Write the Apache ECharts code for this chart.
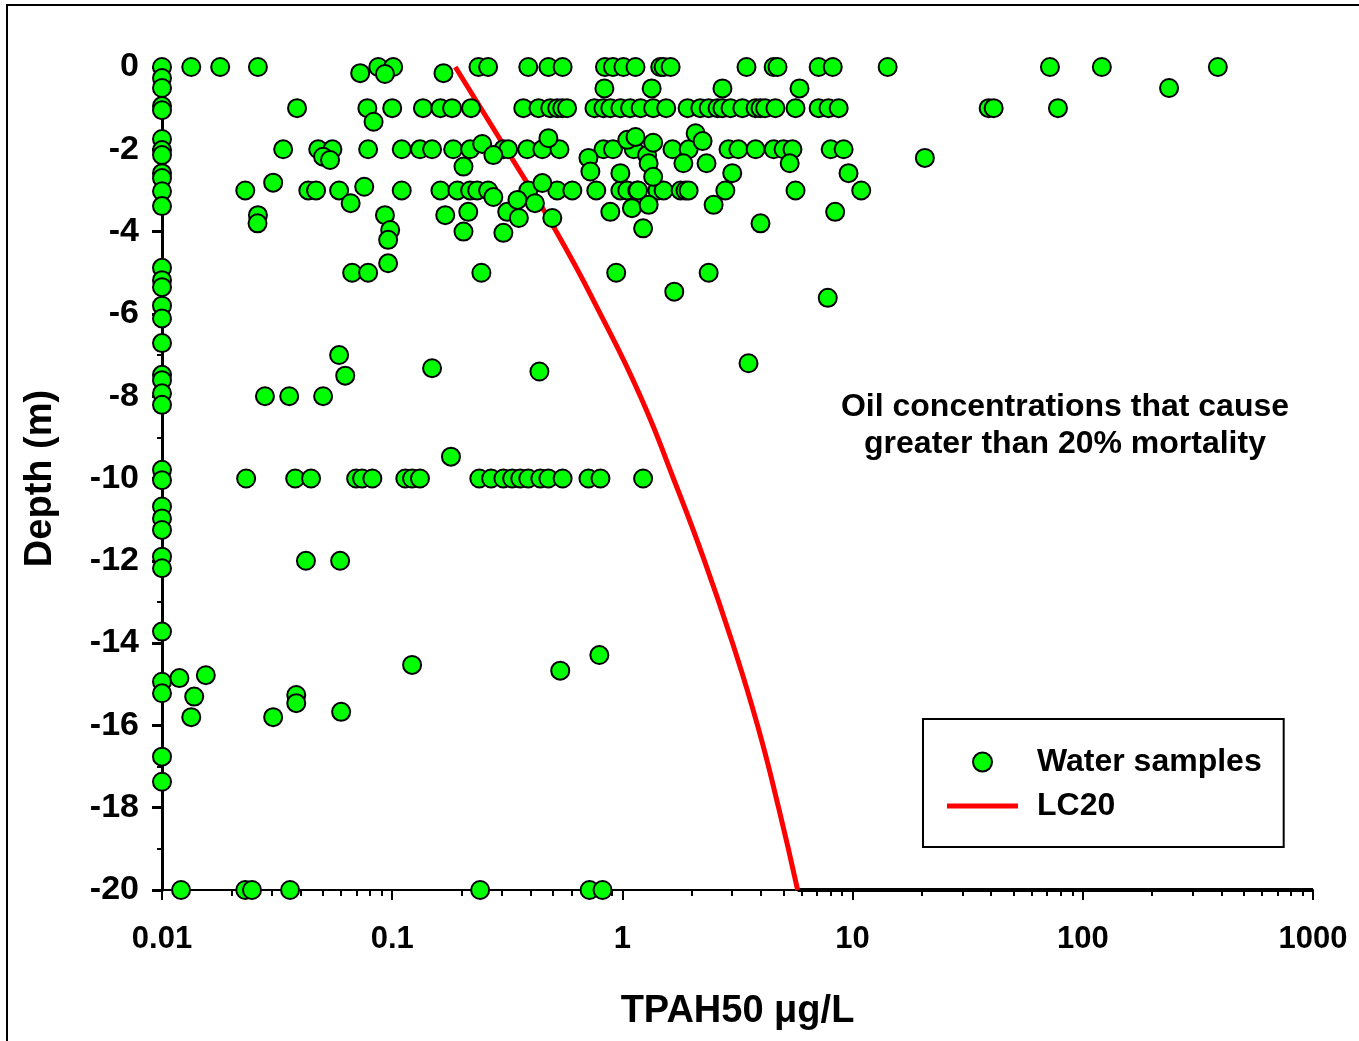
<!DOCTYPE html>
<html>
<head>
<meta charset="utf-8">
<title>TPAH50 vs depth</title>
<script src="https://cdn.jsdelivr.net/npm/echarts@6/dist/echarts.min.js"></script>
<style>
  html, body { margin: 0; padding: 0; background: #fff; }
  #chart { width: 1359px; height: 1041px; }
</style>
</head>
<body>
<div id="chart"></div>
<script>
// water samples sitting on the detection limit (0.01 µg/L), by depth
const detectLimit = 0.01;
const detectLimitDepths = [0, -0.27, -0.51, -0.95, -1.05, -1.75, -2.02, -2.14, -2.58, -2.7, -3.02, -3.38,
  -4.88, -5.18, -5.35, -5.8, -6.11, -6.71, -7.48, -7.61, -7.93, -8.21, -9.79, -10.04, -10.68, -10.97,
  -11.25, -11.9, -12.18, -13.72, -14.94, -15.22, -16.76, -17.37];

// samples taken at the standard depths (m): TPAH50 in µg/L
const depth0Tpah = [0.0134, 0.0179, 0.0261, 0.087, 0.101, 0.237, 0.261, 0.39, 0.477, 0.55, 0.84, 0.91,
  1.01, 1.14, 1.46, 1.51, 1.62, 3.46, 4.54, 4.72, 7.12, 8.2, 14.2, 72, 121, 386];
const depth1Tpah = [0.0386, 0.078, 0.1, 0.136, 0.162, 0.182, 0.22, 0.371, 0.432, 0.486, 0.521, 0.548,
  0.575, 0.756, 0.827, 0.886, 0.98, 1.08, 1.2, 1.36, 1.55, 1.92, 2.18, 2.37, 2.59, 2.72, 2.95, 3.32,
  3.79, 3.98, 4.17, 4.62, 5.65, 7.12, 7.86, 8.7, 39, 41, 78];
const depth2Tpah = [0.0336, 0.0477, 0.055, 0.0786, 0.11, 0.132, 0.149, 0.184, 0.218, 0.304, 0.319,
  0.386, 0.449, 0.533, 0.827, 0.91, 1.12, 1.65, 1.94, 2.89, 3.19, 3.79, 4.54, 5.01, 5.48, 8.03, 9.14];
const depth3Tpah = [0.023, 0.0432, 0.0467, 0.0588, 0.11, 0.162, 0.192, 0.218, 0.234, 0.261, 0.39,
  0.521, 0.606, 0.77, 0.98, 1.05, 1.16, 1.17, 1.42, 1.51, 1.79, 1.88, 1.94, 2.8, 5.65, 10.9];
const depth10Tpah = [0.0232, 0.0379, 0.0444, 0.0697, 0.074, 0.082, 0.114, 0.122, 0.132, 0.239, 0.269,
  0.304, 0.332, 0.36, 0.39, 0.44, 0.477, 0.55, 0.712, 0.803, 1.23];
const depth20Tpah = [0.0121, 0.023, 0.0246, 0.036, 0.241, 0.72, 0.82];

// the rest: [TPAH50, depth]
const otherSamples = [
  [0.0726, -0.15], [0.093, -0.17], [0.167, -0.15],
  [0.835, -0.52], [1.34, -0.52], [2.72, -0.52], [5.88, -0.52], [237, -0.51],
  [0.083, -1.33],
  [0.0501, -2.18], [0.0537, -2.26], [0.204, -2.42], [0.246, -1.87], [0.275, -2.14], [0.477, -1.73],
  [0.712, -2.21], [0.726, -2.54], [1.05, -1.77], [1.14, -1.7], [1.28, -2.14], [1.3, -2.34],
  [1.36, -2.67], [1.36, -1.84], [1.84, -2.34], [2.08, -1.61], [2.23, -1.8], [2.32, -2.34],
  [5.33, -2.34], [20.6, -2.21],
  [0.0304, -2.81], [0.0261, -3.6], [0.026, -3.8], [0.066, -3.31], [0.0756, -2.91], [0.093, -3.6],
  [0.098, -3.96], [0.096, -4.2], [0.096, -4.77], [0.067, -5.0], [0.0786, -5.0],
  [0.275, -3.16], [0.17, -3.6], [0.214, -3.52], [0.204, -4.0], [0.316, -3.52], [0.35, -3.23],
  [0.355, -3.67], [0.304, -4.03], [0.449, -2.82], [0.417, -3.31], [0.496, -3.67], [0.886, -3.52],
  [0.98, -2.58], [1.1, -3.43], [1.3, -3.35], [1.23, -3.92], [2.49, -3.35], [3.0, -2.58],
  [3.98, -3.8], [8.4, -3.52], [9.6, -2.58],
  [0.244, -5.0], [0.94, -5.0], [1.68, -5.46], [2.37, -5.0], [7.8, -5.61],
  [0.0588, -7.0], [0.0625, -7.5], [0.149, -7.32], [0.436, -7.4], [3.53, -7.2],
  [0.028, -8.0], [0.0357, -8.0], [0.0501, -8.0], [0.18, -9.47],
  [0.0422, -12.0], [0.0594, -12.0],
  [0.122, -14.53], [0.537, -14.67], [0.794, -14.29],
  [0.0119, -14.85], [0.0155, -14.78], [0.0138, -15.3], [0.0134, -15.8], [0.0304, -15.8],
  [0.0383, -15.26], [0.0383, -15.46], [0.06, -15.67]
];

// LC20 curve
const lc20Depth = [0, -2, -4, -6, -8, -10, -12, -14, -16, -18, -20];
const lc20Tpah = [0.188, 0.313, 0.516, 0.802, 1.197, 1.666, 2.273, 3.008, 3.864, 4.77, 5.77];

// axes
const xTickValues = [0.01, 0.1, 1, 10, 100, 1000];
const xTickLabels = ['0.01', '0.1', '1', '10', '100', '1000'];
const minorSteps = [2, 3, 4, 5, 6, 7, 8, 9];

const FONT = 'Arial, "Liberation Sans", sans-serif';

const rows = [
  [0, depth0Tpah], [-1, depth1Tpah], [-2, depth2Tpah],
  [-3, depth3Tpah], [-10, depth10Tpah], [-20, depth20Tpah]
];
const sampleData = detectLimitDepths.map(d => [detectLimit, d])
  .concat(...rows.map(([d, vals]) => vals.map(v => [v, d])))
  .concat(otherSamples);

const lc20Data = lc20Depth.map((d, i) => [lc20Tpah[i], d]);
// thick base line from the end of LC20 to the right edge
const floorData = [[lc20Tpah[lc20Tpah.length - 1], -20], [xTickValues[xTickValues.length - 1], -20]];

const minorXTicks = [];
xTickValues.slice(0, -1).forEach(dec => {
  minorSteps.forEach(m => minorXTicks.push(+(dec * m).toPrecision(3)));
});

const chart = echarts.init(document.getElementById('chart'));

chart.setOption({
  backgroundColor: '#fff',
  animation: false,
  grid: { left: 162, right: 46, top: 67, bottom: 151 },
  xAxis: [
    {
      type: 'log',
      logBase: 10,
      min: 0.01,
      max: 1000,
      position: 'bottom',
      name: 'TPAH50 μg/L',
      nameLocation: 'middle',
      nameGap: 103,
      nameTextStyle: { fontFamily: FONT, fontWeight: 'bold', fontSize: 38, color: '#000' },
      axisLine: { show: true, onZero: false, lineStyle: { color: '#000', width: 2 } },
      axisTick: { show: true, length: 10, customValues: xTickValues, lineStyle: { color: '#000', width: 2 } },
      axisLabel: {
        customValues: xTickValues,
        margin: 34,
        fontFamily: FONT, fontWeight: 'bold', fontSize: 31, color: '#000',
        formatter: v => {
          let best = 0;
          xTickValues.forEach((t, i) => {
            if (Math.abs(Math.log10(t) - Math.log10(v)) < Math.abs(Math.log10(xTickValues[best]) - Math.log10(v))) best = i;
          });
          return xTickLabels[best];
        }
      },
      splitLine: { show: false }
    },
    {
      type: 'log',
      logBase: 10,
      min: 0.01,
      max: 1000,
      position: 'bottom',
      axisLine: { show: false, onZero: false },
      axisTick: { show: true, length: 6, customValues: minorXTicks, lineStyle: { color: '#000', width: 2 } },
      axisLabel: { show: false },
      splitLine: { show: false }
    }
  ],
  yAxis: {
    type: 'value',
    min: -20,
    max: 0,
    interval: 2,
    name: 'Depth (m)',
    nameLocation: 'middle',
    nameGap: 102,
    nameTextStyle: { fontFamily: FONT, fontWeight: 'bold', fontSize: 38, color: '#000' },
    axisLine: { show: true, onZero: false, lineStyle: { color: '#000', width: 3 } },
    axisTick: { show: true, length: 10, lineStyle: { color: '#000', width: 3 } },
    minorTick: { show: true, splitNumber: 2, length: 5, lineStyle: { color: '#000', width: 2 } },
    axisLabel: {
      margin: 23,
      fontFamily: FONT, fontWeight: 'bold', fontSize: 34, color: '#000',
      formatter: v => String(v)
    },
    splitLine: { show: false }
  },
  legend: {
    orient: 'vertical',
    left: 923,
    top: 719,
    padding: [27, 22, 25, 24],
    itemWidth: 71,
    itemHeight: 19,
    itemGap: 12,
    borderColor: '#000',
    borderWidth: 2,
    backgroundColor: '#fff',
    textStyle: {
      fontFamily: FONT, fontWeight: 'bold', fontSize: 32, lineHeight: 31, color: '#000',
      padding: [0, 0, 0, 14]
    },
    data: [
      { name: 'Water samples', icon: 'circle' },
      { name: 'LC20', icon: 'path://M0,0 L71,0 L71,5 L0,5 Z', itemStyle: { color: '#ff0000' } }
    ]
  },
  series: [
    {
      name: 'LC20',
      type: 'line',
      data: lc20Data,
      smooth: true,
      symbol: 'none',
      clip: false,
      z: 3,
      lineStyle: { color: '#ff0000', width: 5 },
      itemStyle: { color: '#ff0000' }
    },
    {
      name: 'base',
      type: 'line',
      data: floorData,
      symbol: 'none',
      clip: false,
      silent: true,
      z: 1,
      lineStyle: { color: '#000', width: 4 }
    },
    {
      name: 'Water samples',
      type: 'scatter',
      data: sampleData,
      symbol: 'circle',
      symbolSize: 18,
      clip: false,
      z: 4,
      itemStyle: { color: '#00ff00', borderColor: '#000', borderWidth: 2, opacity: 1 }
    }
  ],
  graphic: [
    {
      type: 'rect',
      z: -10,
      silent: true,
      shape: { x: 7, y: 5, width: 1400, height: 1100 },
      style: { fill: 'none', stroke: '#000', lineWidth: 2 }
    },
    {
      type: 'text',
      x: 1065,
      y: 426,
      style: {
        text: 'Oil concentrations that cause\ngreater than 20% mortality',
        fontFamily: FONT,
        fontWeight: 'bold',
        fontSize: 32,
        lineHeight: 37,
        fill: '#000',
        textAlign: 'center',
        textVerticalAlign: 'middle'
      }
    }
  ]
});
</script>
</body>
</html>
